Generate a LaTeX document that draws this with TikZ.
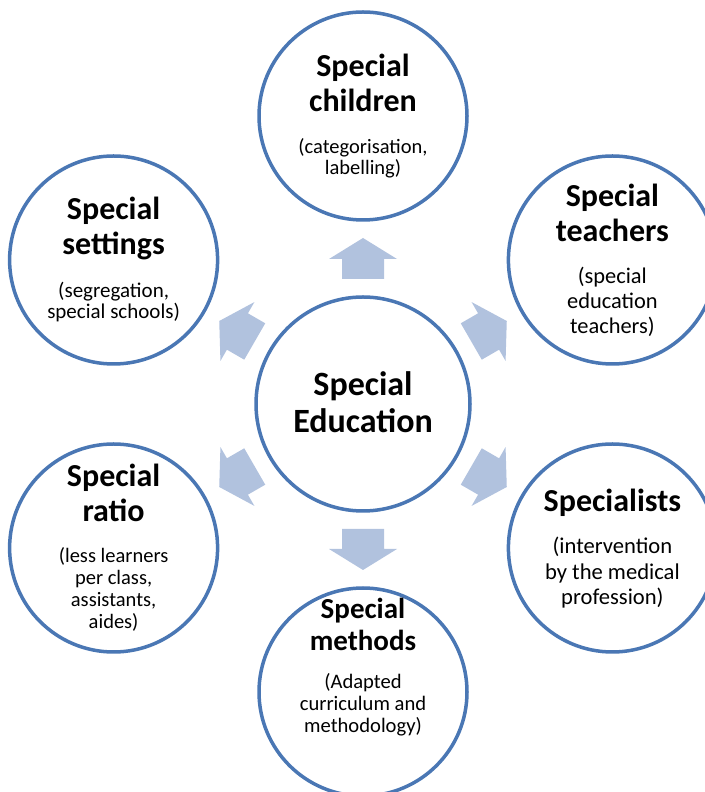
\documentclass[tikz,border=0pt]{standalone}
\usepackage{fontspec}
\setmainfont{Carlito}
\definecolor{ringblue}{HTML}{4A77B4}
\definecolor{arrowblue}{HTML}{B1C2DE}
\begin{document}
\begin{tikzpicture}[x=1pt,y=1pt,
    disc/.style={circle,draw=ringblue,line width=3.5pt,fill=white,inner sep=0pt,minimum size=208},
    head/.style={anchor=base,align=center,inner sep=0pt,font=\bfseries\fontsize{32}{35.2}\selectfont},
    note/.style 2 args={anchor=base,align=center,inner sep=0pt,font=\fontsize{#1}{#2}\selectfont}]

    \useasboundingbox (0,0) rectangle (704,792);

    % hub and the six satellites
    \node[disc,minimum size=214] (hub) at (363,388) {};
    \node[disc] (kids) at (363,676) {};
    \node[disc] (settings) at (113.6,532) {};
    \node[disc] (teachers) at (612.4,532) {};
    \node[disc] (ratio) at (113.6,244) {};
    \node[disc] (experts) at (612.4,244) {};
    \node[disc] (methods) at (363,100) {};

    % block arrows
    \foreach \ang in {90,30,-30,-90,-150,150}
        \fill[arrowblue,shift={(hub.center)},rotate=\ang] (125,-21)--(145,-21)--(145,-34)--(166,0)--(145,34)--(145,21)--(125,21)--cycle;

    % texts (base = last line)
    \node[head,font=\bfseries\fontsize{34}{37.4}\selectfont] (hub-head) at ([yshift=-28.7]hub.center) {Special\\Education};

    \node[head] (kids-head) at ([yshift=4]kids.center) {Special\\children};
    \node[note={20.5}{21.5}] (kids-note) at ([yshift=-59]kids.center) {(categorisation,\\labelling)};

    \node[head] (settings-head) at ([yshift=5]settings.center) {Special\\settings};
    \node[note={21}{21.5}] (settings-note) at ([yshift=-59]settings.center) {(segregation,\\special schools)};

    \node[head] (teachers-head) at ([yshift=18]teachers.center) {Special\\teachers};
    \node[note={22.4}{25}] (teachers-note) at ([yshift=-74]teachers.center) {(special\\education\\teachers)};

    \node[head] (ratio-head) at ([yshift=26]ratio.center) {Special\\ratio};
    \node[note={20.5}{22}] (ratio-note) at ([yshift=-81]ratio.center) {(less learners\\per class,\\assistants,\\aides)};

    \node[head] (experts-head) at ([yshift=36]experts.center) {Specialists};
    \node[note={22.6}{25.5}] (experts-note) at ([yshift=-57]experts.center) {(intervention\\by the medical\\profession)};

    \node[head,font=\bfseries\fontsize{29}{32.4}\selectfont] (methods-head) at ([yshift=41]methods.center) {Special\\methods};
    \node[note={20.6}{22}] (methods-note) at ([yshift=-41]methods.center) {(Adapted\\curriculum and\\methodology)};
\end{tikzpicture}
\end{document}
